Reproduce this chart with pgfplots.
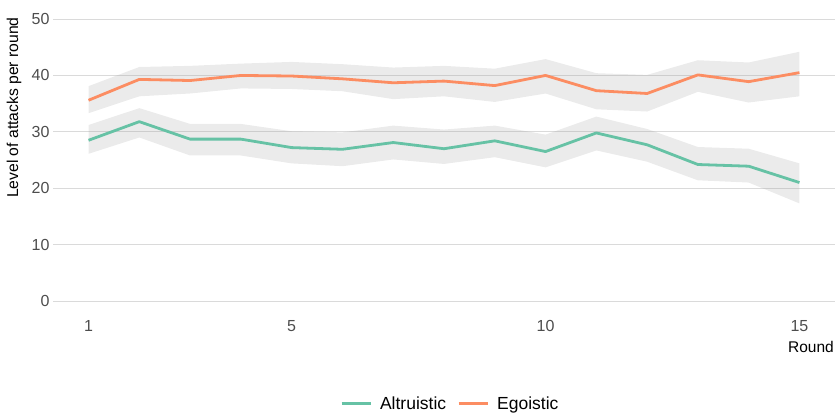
\documentclass[border=0pt]{standalone}
\usepackage{pgfplots}
\pgfplotsset{compat=1.18}
\usepgfplotslibrary{fillbetween}
\usepackage{pgfplotstable}
\usepackage{fontspec}
\setmainfont{Liberation Sans}

\definecolor{altru}{HTML}{66C2A5}
\definecolor{egoi}{HTML}{FC8D62}
\definecolor{bandc}{HTML}{999999}
\definecolor{gridc}{HTML}{DADADA}
\definecolor{tickc}{HTML}{4D4D4D}

% round, mean, lower, upper
\pgfplotstableread{
x  m     lo    hi
1  28.5  26.1  31.2
2  31.8  29.0  34.2
3  28.7  25.8  31.4
4  28.7  25.8  31.4
5  27.2  24.4  30.1
6  26.9  23.9  29.9
7  28.1  25.1  31.1
8  27.0  24.3  30.4
9  28.4  25.5  31.1
10 26.5  23.7  29.5
11 29.8  26.7  32.7
12 27.7  24.7  30.5
13 24.2  21.4  27.3
14 23.9  21.0  27.0
15 21.0  17.3  24.4
}\altdata

\pgfplotstableread{
x  m     lo    hi
1  35.6  33.3  38.1
2  39.3  36.3  41.5
3  39.1  36.8  41.7
4  40.0  37.7  42.1
5  39.9  37.6  42.4
6  39.4  37.2  42.0
7  38.7  35.8  41.4
8  39.0  36.3  41.7
9  38.2  35.3  41.2
10 40.0  36.8  42.9
11 37.3  34.0  40.4
12 36.8  33.6  40.1
13 40.1  37.1  42.7
14 38.9  35.2  42.3
15 40.5  36.3  44.2
}\egodata

\begin{document}
\begin{tikzpicture}
\begin{axis}[
  at={(53pt,100pt)}, anchor=south west,
  scale only axis, width=782pt, height=310pt,
  xmin=0.3, xmax=15.7, ymin=-2.5, ymax=52.5,
  xtick={1,5,10,15}, ytick={0,10,...,50},
  axis line style={draw=none}, major tick length=0pt,
  ymajorgrids, grid style={gridc, line width=0.8pt},
  /pgf/number format/assume math mode=true,
  ticklabel style={text=tickc, font=\fontsize{16}{18}\selectfont},
  xticklabel style={yshift=-2pt},
  xlabel={Round},
  xlabel style={at={(rel axis cs:1,0)}, anchor=north east, inner sep=0pt, yshift=-26pt, xshift=-1pt, font=\fontsize{15.5}{18}\selectfont},
  ylabel={Level of attacks per round},
  ylabel style={at={(rel axis cs:-0.0499,0.961)}, anchor=east, inner sep=0pt, font=\fontsize{15.7}{18}\selectfont},
  legend columns=2,
  legend style={draw=none, at={(rel axis cs:0.508,-0.287)}, anchor=center,
    font=\fontsize{17.5}{20}\selectfont,
    /tikz/every odd column/.append style={column sep=6pt},
    /tikz/every even column/.append style={column sep=9pt}},
  legend image code/.code={\draw[#1, line width=3pt] (0pt,0pt) -- (29pt,0pt);},
]
\addplot[name path=ah, draw=none, forget plot] table[x=x, y=hi]{\altdata};
\addplot[name path=al, draw=none, forget plot] table[x=x, y=lo]{\altdata};
\addplot[bandc, fill opacity=0.2, forget plot] fill between[of=ah and al];
\addplot[name path=eh, draw=none, forget plot] table[x=x, y=hi]{\egodata};
\addplot[name path=el, draw=none, forget plot] table[x=x, y=lo]{\egodata};
\addplot[bandc, fill opacity=0.2, forget plot] fill between[of=eh and el];

\addplot[altru, line width=2.8pt, line join=round] table[x=x, y=m]{\altdata};
\addlegendentry{Altruistic}
\addplot[egoi, line width=2.8pt, line join=round] table[x=x, y=m]{\egodata};
\addlegendentry{Egoistic}
\end{axis}
\path (0,0) (838pt,415pt);
\end{tikzpicture}
\end{document}
